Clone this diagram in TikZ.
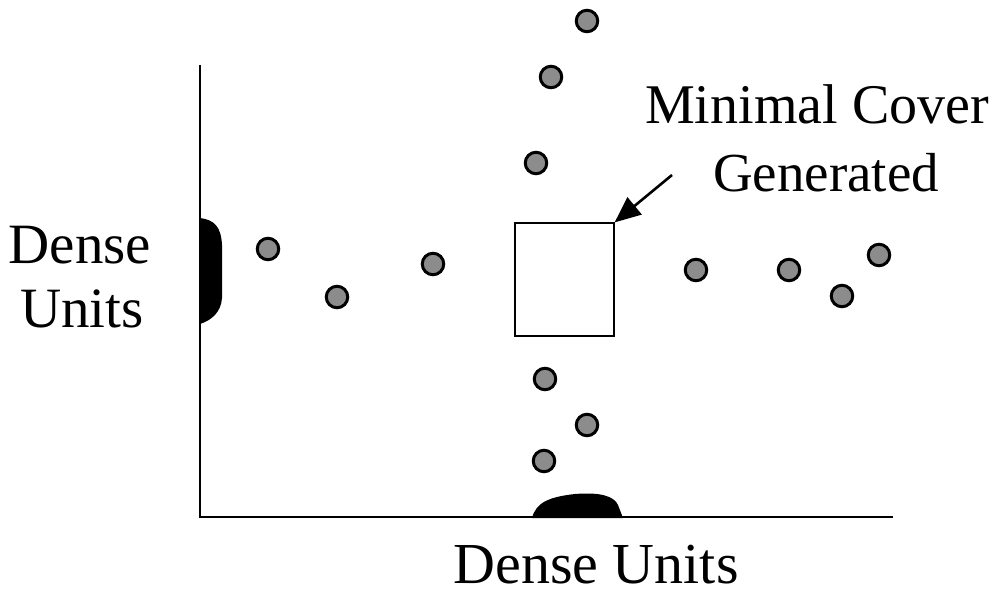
\documentclass[tikz,border=0pt]{standalone}
\usepackage{fontspec}
\setmainfont{Liberation Serif}
\usetikzlibrary{arrows.meta}
\begin{document}
\begin{tikzpicture}[x=1pt,y=-1pt,
  pt/.style={circle,draw=black,line width=3pt,fill=black!45,minimum size=21.5pt,inner sep=0pt},
  lbl/.style={font=\fontsize{57}{62}\selectfont,inner sep=0pt},
  axis/.style={line width=2.2pt},
  blob/.style={fill=black}]
\useasboundingbox (0,0) rectangle (998,596);
% axes
\coordinate (o) at (200,517);
\coordinate (ytop) at (200,65);
\coordinate (xend) at (893,517);
\draw[axis] (ytop) -- (o) -- (xend);
% dense projections on the axes
\fill[blob] (200,218) .. controls (214,220) and (221,226) .. (222,245)
  -- (222,298) .. controls (221,312) and (212,320) .. (200,324) -- cycle;
\fill[blob] (532,518) .. controls (536,503) and (548,497) .. (575,494)
  .. controls (600,492) and (614,496) .. (618,505) -- (623,518) -- cycle;
% data points
\foreach \n/\x/\y in {a/587/21, b/551/77, c/536/163, d/268/249, e/337/297,
  f/433/264, g/696/270, h/789/270, i/842/296, j/879/255, k/545/379,
  l/587/425, m/544/461}
  \node[pt] (\n) at (\x,\y) {};
% minimal cover
\node[draw=black,line width=1.2pt,minimum width=99pt,minimum height=113pt,inner sep=0pt] (cover) at (564.5,279.5) {};
\node[lbl,anchor=base,font=\fontsize{56}{60}\selectfont] (t1) at (817,124) {Minimal Cover};
\node[lbl,anchor=base,font=\fontsize{55}{60}\selectfont] (t2) at (826,192) {Generated};
\coordinate (tail) at (672,175);
\draw[line width=2.6pt,-{Triangle[length=26pt,width=22pt]}] (tail) -- (cover.north east);
% axis labels
\node[lbl,anchor=base] (yl1) at (80,263) {Dense};
\node[lbl,anchor=base] (yl2) at (82,327) {Units};
\node[lbl,anchor=base,font=\fontsize{58}{62}\selectfont] (xl) at (596,583) {Dense Units};
\end{tikzpicture}
\end{document}
